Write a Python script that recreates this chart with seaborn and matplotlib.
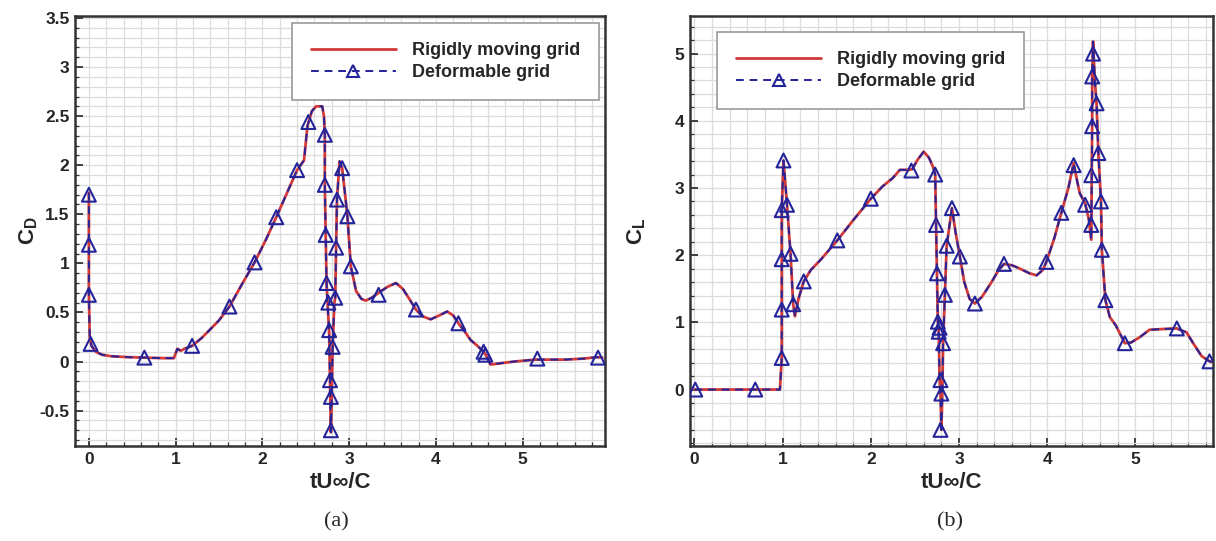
import numpy as np
import pandas as pd
import matplotlib
matplotlib.use("Agg")
import matplotlib.pyplot as plt
from matplotlib.lines import Line2D
from matplotlib.ticker import MultipleLocator, FormatStrFormatter
import seaborn as sns

# ---------------- data: panel (a) drag coefficient ----------------
t_cd = [0.00, 0.00, 0.00, 0.01, 0.03, 0.08, 0.15, 0.25, 0.45, 0.65, 0.85, 0.98,
        1.02, 1.06, 1.10, 1.19, 1.30, 1.39, 1.50, 1.62, 1.76, 1.91, 2.04, 2.16,
        2.28, 2.40, 2.48, 2.52, 2.57, 2.62, 2.69, 2.71, 2.72, 2.72, 2.73, 2.74,
        2.75, 2.77, 2.78, 2.79, 2.80, 2.81, 2.83, 2.84, 2.85, 2.86, 2.89, 2.92,
        2.96, 2.98, 3.02, 3.08, 3.14, 3.19, 3.26, 3.34, 3.44, 3.54, 3.62, 3.70,
        3.77, 3.85, 3.94, 4.04, 4.13, 4.20, 4.26, 4.33, 4.40, 4.48, 4.55, 4.58,
        4.63, 4.72, 4.90, 5.15, 5.49, 5.70, 5.86, 5.92]
cd_rigid = [1.72, 1.19, 0.68, 0.25, 0.16, 0.10, 0.07, 0.055, 0.045, 0.04, 0.035, 0.035,
            0.13, 0.11, 0.13, 0.16, 0.24, 0.32, 0.42, 0.56, 0.78, 1.01, 1.24, 1.47,
            1.71, 1.95, 2.05, 2.40, 2.55, 2.60, 2.60, 2.50, 2.31, 1.80, 1.29, 0.80,
            0.62, 0.30, -0.20, -0.72, -0.36, 0.15, 0.60, 0.65, 1.16, 1.65, 2.04, 1.97,
            1.65, 1.48, 0.97, 0.72, 0.64, 0.62, 0.65, 0.70, 0.76, 0.80, 0.74, 0.63,
            0.53, 0.46, 0.43, 0.47, 0.51, 0.47, 0.39, 0.31, 0.22, 0.16, 0.10, 0.06,
            -0.03, -0.02, 0.00, 0.02, 0.02, 0.03, 0.045, 0.04]
cd_deform = cd_rigid  # curves coincide
t_cd_marks = [0.00, 0.00, 0.00, 0.02, 0.64, 1.19, 1.62, 1.91, 2.16, 2.40, 2.53, 2.72,
              2.72, 2.73, 2.74, 2.76, 2.77, 2.78, 2.79, 2.79, 2.81, 2.84, 2.85, 2.86,
              2.92, 2.98, 3.02, 3.34, 3.77, 4.26, 4.55, 4.57, 5.17, 5.87]
cd_marks = [1.70, 1.19, 0.68, 0.18, 0.04, 0.16, 0.56, 1.01, 1.47, 1.95, 2.44, 2.31,
            1.80, 1.29, 0.80, 0.60, 0.32, -0.19, -0.36, -0.70, 0.15, 0.65, 1.16, 1.65,
            1.97, 1.48, 0.97, 0.68, 0.53, 0.39, 0.10, 0.07, 0.03, 0.04]

# ---------------- data: panel (b) lift coefficient ----------------
t_cl = [0.00, 0.69, 0.97, 0.99, 0.99, 0.99, 0.99, 1.01, 1.05, 1.09, 1.12, 1.14,
        1.18, 1.24, 1.32, 1.43, 1.62, 1.80, 2.00, 2.13, 2.25, 2.33, 2.43, 2.47,
        2.53, 2.60, 2.66, 2.71, 2.73, 2.74, 2.75, 2.76, 2.77, 2.78, 2.79, 2.80,
        2.81, 2.82, 2.84, 2.86, 2.92, 2.96, 3.01, 3.06, 3.12, 3.18, 3.26, 3.36,
        3.45, 3.51, 3.60, 3.69, 3.80, 3.88, 3.95, 3.99, 4.08, 4.16, 4.24, 4.30,
        4.34, 4.37, 4.43, 4.47, 4.50, 4.505, 4.51, 4.51, 4.52, 4.54, 4.56, 4.58,
        4.61, 4.62, 4.66, 4.71, 4.78, 4.88, 4.95, 5.05, 5.16, 5.30, 5.47, 5.58,
        5.66, 5.75, 5.84, 5.90]
cl_rigid = [0.00, 0.00, 0.00, 0.47, 1.19, 1.94, 2.67, 3.41, 2.75, 2.02, 1.27, 1.09,
            1.35, 1.61, 1.78, 1.93, 2.22, 2.52, 2.84, 3.02, 3.15, 3.27, 3.27, 3.28,
            3.42, 3.54, 3.45, 3.30, 3.20, 2.45, 1.73, 1.01, 0.86, 0.14, -0.06, -0.60,
            -0.10, 0.69, 1.41, 2.14, 2.70, 2.35, 1.98, 1.60, 1.35, 1.28, 1.38, 1.58,
            1.78, 1.87, 1.85, 1.80, 1.73, 1.70, 1.78, 1.90, 2.25, 2.63, 3.00, 3.37,
            3.10, 2.92, 2.77, 2.55, 2.23, 3.20, 3.92, 4.66, 5.18, 4.60, 4.26, 3.52,
            2.80, 2.08, 1.33, 1.08, 0.95, 0.69, 0.70, 0.78, 0.89, 0.90, 0.91, 0.85,
            0.68, 0.50, 0.42, 0.40]
cl_deform = cl_rigid  # curves coincide
t_cl_marks = [0.01, 0.69, 0.99, 0.99, 0.99, 0.99, 1.01, 1.05, 1.09, 1.12, 1.24, 1.62,
              2.00, 2.46, 2.73, 2.74, 2.75, 2.76, 2.77, 2.78, 2.82, 2.79, 2.80, 2.79,
              2.84, 2.86, 2.92, 3.01, 3.18, 3.51, 3.99, 4.16, 4.30, 4.43, 4.50, 4.50,
              4.51, 4.51, 4.52, 4.56, 4.58, 4.61, 4.62, 4.66, 4.88, 5.47, 5.84]
cl_marks = [0.00, 0.00, 0.47, 1.19, 1.94, 2.67, 3.41, 2.75, 2.02, 1.27, 1.61, 2.22,
            2.84, 3.26, 3.20, 2.45, 1.73, 1.01, 0.86, 0.92, 0.69, 0.14, -0.06, -0.60,
            1.41, 2.14, 2.70, 1.98, 1.28, 1.87, 1.90, 2.63, 3.34, 2.75, 2.45, 3.19,
            3.92, 4.66, 5.00, 4.26, 3.52, 2.80, 2.08, 1.33, 0.69, 0.91, 0.42]

legend_labels = ["Rigidly moving grid", "Deformable grid"]
x_label = "tU\u221e/C"
panel_tags = ["(a)", "(b)"]

# ---------------- style ----------------
sns.set_theme(style="white")
plt.rcParams["font.family"] = ["Liberation Sans", "DejaVu Sans"]
plt.rcParams["axes.unicode_minus"] = False
plt.rcParams["mathtext.fontset"] = "custom"
plt.rcParams["mathtext.rm"] = "Liberation Sans"
plt.rcParams["mathtext.bf"] = "Liberation Sans:bold"
plt.rcParams["mathtext.it"] = "Liberation Sans:italic"

RED = "#d23a3a"
BLUE = "#24249a"
GRID = "#dcdcdc"

fig = plt.figure(figsize=(12.16, 5.41), dpi=100)
axL = fig.add_axes([75 / 1216, 1 - 446 / 541, 530 / 1216, 430 / 541])
axR = fig.add_axes([690 / 1216, 1 - 446 / 541, 523 / 1216, 430 / 541])


def draw(ax, t, v_r, v_d, tm, vm, xlim, ylim, ymaj, ymin_, ylabel, ylab_x):
    ax.set_axisbelow(True)
    sns.lineplot(x=t, y=v_r, ax=ax, sort=False, estimator=None, color=RED,
                 lw=2.0, zorder=3)
    sns.lineplot(x=t, y=v_d, ax=ax, sort=False, estimator=None, color=BLUE,
                 lw=1.4, dashes=False, zorder=4).lines[-1].set_dashes([4, 3])
    sns.scatterplot(x=tm, y=vm, ax=ax, marker="^", s=100, facecolor="none",
                    edgecolor=BLUE, linewidth=1.5, zorder=5)
    ax.set_xlim(*xlim)
    ax.set_ylim(*ylim)
    ax.xaxis.set_major_locator(MultipleLocator(1))
    ax.xaxis.set_minor_locator(MultipleLocator(0.2))
    ax.yaxis.set_major_locator(MultipleLocator(ymaj))
    ax.yaxis.set_minor_locator(MultipleLocator(ymin_))
    ax.yaxis.set_major_formatter(FormatStrFormatter("%g"))
    ax.xaxis.set_major_formatter(FormatStrFormatter("%g"))
    ax.grid(True, which="both", color=GRID, lw=0.9)
    ax.tick_params(which="both", direction="in", left=True, bottom=True,
                   right=False, top=False, color="#333333")
    ax.tick_params(which="major", length=6, width=1.3, labelsize=12.5, pad=4)
    ax.tick_params(which="minor", length=3, width=0.9)
    for lab in ax.get_xticklabels() + ax.get_yticklabels():
        lab.set_fontweight("bold")
    for sp in ax.spines.values():
        sp.set_color("#333333")
        sp.set_linewidth(1.8)
    ax.set_xlabel(x_label, fontsize=16, fontweight="bold", labelpad=4)
    ax.set_ylabel(ylabel, fontsize=16)
    ax.yaxis.set_label_coords(ylab_x, 0.5)


draw(axL, t_cd, cd_rigid, cd_deform, t_cd_marks, cd_marks,
     (-0.16, 5.95), (-0.86, 3.52), 0.5, 0.1, r"$\mathbf{C}_{\mathbf{D}}$",
     (40 - 75) / 530)
draw(axR, t_cl, cl_rigid, cl_deform, t_cl_marks, cl_marks,
     (-0.05, 5.88), (-0.84, 5.56), 1, 0.2, r"$\mathbf{C}_{\mathbf{L}}$",
     (648 - 690) / 523)

handles = [Line2D([], [], color=RED, lw=2.0),
           Line2D([], [], color=BLUE, lw=1.4, ls=(0, (4, 3)), marker="^",
                  markersize=9, markerfacecolor="none", markeredgecolor=BLUE,
                  markeredgewidth=1.5)]
leg_kw = dict(frameon=True, fancybox=False, framealpha=1, edgecolor="#999999",
              prop={"weight": "bold", "size": 13}, handlelength=4.7,
              handletextpad=0.9, borderpad=1.05, labelspacing=0.3,
              borderaxespad=0)
legL = axL.legend(handles, legend_labels, loc="upper right",
                  bbox_to_anchor=(0.989, 0.984), **leg_kw)
legR = axR.legend(handles, legend_labels, loc="upper left",
                  bbox_to_anchor=(0.052, 0.963), **leg_kw)
for lg in (legL, legR):
    lg.get_frame().set_linewidth(1.2)
    lg.set_zorder(10)

fig.text(336 / 1216, 1 - 522 / 541, panel_tags[0], ha="center", va="center",
         fontsize=16, family="Liberation Serif")
fig.text(950 / 1216, 1 - 522 / 541, panel_tags[1], ha="center", va="center",
         fontsize=16, family="Liberation Serif")

fig.savefig("out.png", dpi=100)
